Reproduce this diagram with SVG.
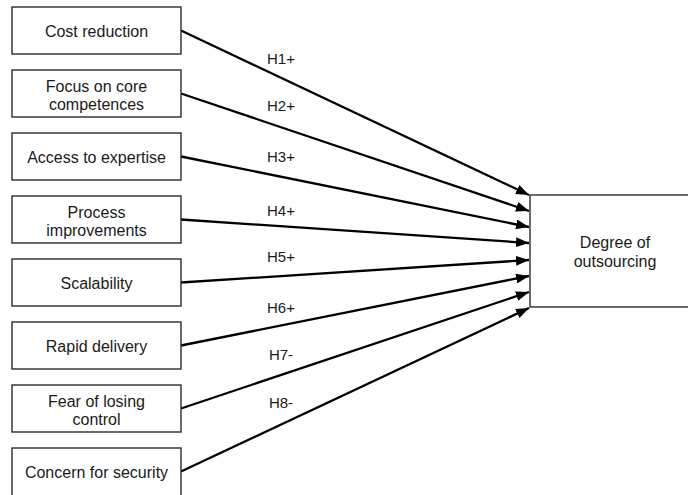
<svg xmlns="http://www.w3.org/2000/svg" width="688" height="495" viewBox="0 0 688 495">
<style>
.box{fill:#fff;stroke:#2b2b2b;stroke-width:1.4}
.t{font-family:"Liberation Sans",Arial,sans-serif;font-size:16px;fill:#1a1a1a;text-anchor:middle}
.lbl{font-family:"Liberation Sans",Arial,sans-serif;font-size:15px;fill:#1a1a1a;text-anchor:middle}
.c{stroke:#000;stroke-width:2.3;fill:none;marker-end:url(#ah)}
</style>
<defs>
<marker id="ah" markerUnits="userSpaceOnUse" markerWidth="14" markerHeight="10" refX="13" refY="5" orient="auto">
<path d="M0,0 L13,5 L0,10 Z" fill="#000"/>
</marker>
</defs>
<rect width="688" height="495" fill="#fff"/>
<g id="connectors">
<line class="c" x1="181" y1="30.5" x2="529" y2="195"/>
<line class="c" x1="181" y1="93.5" x2="529" y2="211"/>
<line class="c" x1="181" y1="156.5" x2="529" y2="227"/>
<line class="c" x1="181" y1="219.5" x2="529" y2="243"/>
<line class="c" x1="181" y1="282.5" x2="529" y2="260"/>
<line class="c" x1="181" y1="345.5" x2="529" y2="276"/>
<line class="c" x1="181" y1="408.5" x2="529" y2="292"/>
<line class="c" x1="181" y1="471.5" x2="529" y2="308"/>
<text class="lbl" x="281" y="64">H1+</text>
<text class="lbl" x="281" y="111">H2+</text>
<text class="lbl" x="281" y="162">H3+</text>
<text class="lbl" x="281" y="216">H4+</text>
<text class="lbl" x="281" y="262">H5+</text>
<text class="lbl" x="281" y="313">H6+</text>
<text class="lbl" x="281" y="360">H7-</text>
<text class="lbl" x="281" y="408">H8-</text>
</g>
<g id="n1"><rect class="box" x="12" y="7" width="169" height="47"/><text class="t" x="96.5" y="36.5">Cost reduction</text></g>
<g id="n2"><rect class="box" x="12" y="70" width="169" height="47"/><text class="t" x="96.5" y="91.5">Focus on core</text><text class="t" x="96.5" y="109.5">competences</text></g>
<g id="n3"><rect class="box" x="12" y="133" width="169" height="47"/><text class="t" x="96.5" y="162.5">Access to expertise</text></g>
<g id="n4"><rect class="box" x="12" y="196" width="169" height="47"/><text class="t" x="96.5" y="217.5">Process</text><text class="t" x="96.5" y="235.5">improvements</text></g>
<g id="n5"><rect class="box" x="12" y="259" width="169" height="47"/><text class="t" x="96.5" y="288.5">Scalability</text></g>
<g id="n6"><rect class="box" x="12" y="322" width="169" height="47"/><text class="t" x="96.5" y="351.5">Rapid delivery</text></g>
<g id="n7"><rect class="box" x="12" y="385" width="169" height="47"/><text class="t" x="96.5" y="406.5">Fear of losing</text><text class="t" x="96.5" y="424.5">control</text></g>
<g id="n8"><rect class="box" x="12" y="448" width="169" height="52"/><text class="t" x="96.5" y="477.5">Concern for security</text></g>
<g id="n9"><rect class="box" x="530" y="195" width="170" height="112"/><text class="t" x="615" y="248">Degree of</text><text class="t" x="615" y="266.5">outsourcing</text></g>
</svg>
